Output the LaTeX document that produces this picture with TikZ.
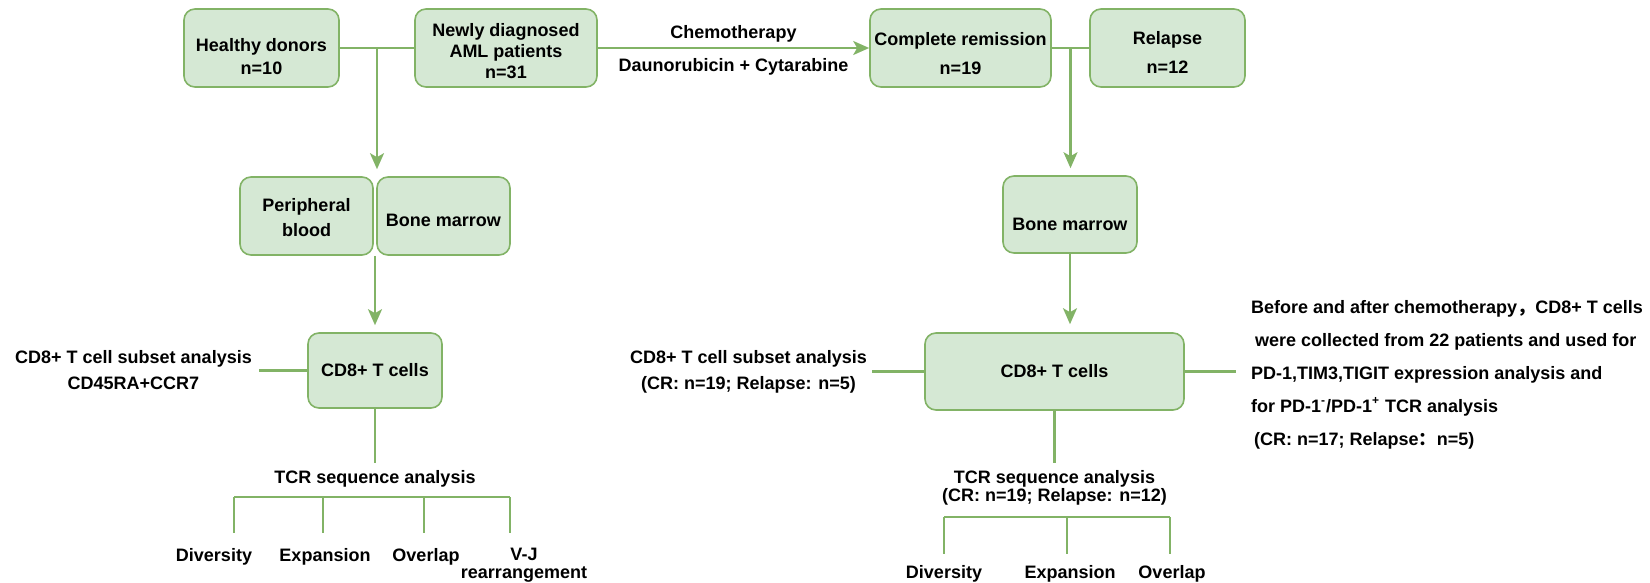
\documentclass[tikz,border=0pt]{standalone}
\usepackage{fontspec}
\setmainfont{Liberation Sans}
\newfontfamily\cjk{Noto Sans CJK SC}
\usetikzlibrary{positioning,arrows.meta,calc}
\definecolor{boxfill}{HTML}{D5E8D4}
\definecolor{boxline}{HTML}{82B366}
\definecolor{linkgreen}{HTML}{82B366}
\newcommand{\lowr}[1]{\rule{0pt}{#1}}

\begin{document}
\begin{tikzpicture}[
    x=0.5pt, y=-0.5pt,
    font=\bfseries\fontsize{9}{11}\selectfont,
    box/.style={draw=boxline, fill=boxfill, line width=0.8pt, rounded corners=5.5pt, align=center, inner sep=0pt},
    lbl/.style={align=center, inner sep=0pt},
    link/.style={draw=linkgreen, line width=1.1pt},
    arr/.style={link, -{Stealth[length=8pt, width=7pt, inset=2pt]}}
]
\useasboundingbox (0,0) rectangle (1650,583);

% top row
\node[box, minimum width=77.5pt, minimum height=39pt] (donors) at (261.5,48) {\lowr{15pt}Healthy donors\\[0.5pt]n=10};
\node[box, minimum width=91pt, minimum height=39pt] (aml) at (506,48) {\lowr{9.5pt}Newly diagnosed\\[-0.5pt]AML patients\\[-0.5pt]n=31};
\node[box, minimum width=90.5pt, minimum height=39pt] (cr) at (960.5,48) {\lowr{12pt}Complete remission\\[3.5pt]n=19};
\node[box, minimum width=77.5pt, minimum height=39pt] (relapse) at (1167.5,48) {\lowr{11pt}Relapse\\[3.5pt]n=12};

% samples
\node[box, minimum width=66.5pt, minimum height=39pt] (pb) at (306.5,216) {\lowr{8pt}Peripheral\\[1.5pt]blood};
\node[box, minimum width=66.5pt, minimum height=39pt] (bml) at (443.5,216) {\lowr{10.5pt}Bone marrow};
\node[box, minimum width=67pt, minimum height=38.5pt] (bmr) at (1070,214.5) {\lowr{16.5pt}Bone marrow};

% T cells
\node[box, minimum width=67pt, minimum height=37.5pt] (cd8l) at (375,370.5) {CD8+ T cells};
\node[box, minimum width=129.5pt, minimum height=38.5pt] (cd8r) at (1054.5,371.5) {CD8+ T cells};

\node[lbl, left=27.5pt of cd8l] (subl) {CD8+ T cell subset analysis\\[2pt]CD45RA+CCR7};
\node[lbl, left=28.5pt of cd8r] (subr) {CD8+ T cell subset analysis\\[2pt](CR: n=19; Relapse: n=5)};
\node[lbl, align=left, right=33pt of cd8r, yshift=-1.5pt] (pdtext) {Before and after chemotherapy{\cjk ，}CD8+ T cells\\[5.5pt]
  \hspace{2pt}were collected from 22 patients and used for\\[5.5pt]
  PD-1,TIM3,TIGIT expression analysis and\\[5.5pt]
  for PD-1\textsuperscript{-}/PD-1\textsuperscript{+} TCR analysis\\[5.5pt]
  \hspace{1.5pt}(CR: n=17; Relapse{\cjk ：}n=5)};

% TCR analysis
\node[lbl, below=30.5pt of cd8l] (tcrl) {TCR sequence analysis};
\node[lbl, below=29.5pt of cd8r] (tcrr) {TCR sequence analysis\\[-2pt](CR: n=19; Relapse: n=12)};

\node[lbl, anchor=north] (divl) at (214,548) {Diversity};
\node[lbl, anchor=north] (expl) at (325,548) {Expansion};
\node[lbl, anchor=north] (ovll) at (426,548) {Overlap};
\node[lbl, anchor=north] (vjl) at (524,548) {V-J\\[-2pt]rearrangement};
\node[lbl, anchor=north] (divr) at (944,565.5) {Diversity};
\node[lbl, anchor=north] (expr) at (1070,565.5) {Expansion};
\node[lbl, anchor=north] (ovlr) at (1172,565.5) {Overlap};

\coordinate (bdivl) at (234,497);
\coordinate (bexpl) at (323,497);
\coordinate (bovll) at (424,497);
\coordinate (bvjl) at (510,497);
\coordinate (bdivr) at (944,517);
\coordinate (bexpr) at (1067,517);
\coordinate (bovlr) at (1170,517);

% connectors
\draw[link] (donors.east) -- (aml.west);
\coordinate (jl) at ($(donors.east)!0.5!(aml.west)$);
\draw[arr, shorten >=3.5pt] (jl) -- (jl |- pb.north);
\draw[arr] (aml.east) -- node[lbl, above=2.5pt]{Chemotherapy} node[lbl, below=4.5pt]{Daunorubicin + Cytarabine} (cr.west);
\draw[link] (cr.east) -- (relapse.west);
\coordinate (jr) at ($(cr.east)!0.5!(relapse.west)$);
\draw[arr, shorten >=3.5pt] (jr) -- (jr |- bmr.north);

\coordinate (seam) at ($(pb.south east)!0.5!(bml.south west)$);
\draw[arr, shorten >=3.5pt] (seam) -- (cd8l.north);
\draw[arr, shorten >=4pt] (bmr.south) -- (bmr.south |- cd8r.north);

\draw[link, shorten <=3.5pt] (subl.east) -- (cd8l.west);
\draw[link, shorten <=2.5pt] (subr.east) -- (cd8r.west);
\draw[link, shorten >=7.5pt] (cd8r.east) -- (cd8r.east -| pdtext.west);

\draw[link, shorten >=3.5pt] (cd8l.south) -- (tcrl.north);
\draw[link, shorten >=3.5pt] (cd8r.south) -- (tcrr.north);

\draw[link] (bdivl) -- (bvjl);
\foreach \b/\t in {bdivl/divl, bexpl/expl, bovll/ovll, bvjl/vjl}
  \draw[link, shorten >=7.5pt] (\b) -- (\b |- \t.north);
\draw[link] (bdivr) -- (bovlr);
\foreach \b/\t in {bdivr/divr, bexpr/expr, bovlr/ovlr}
  \draw[link, shorten >=6pt] (\b) -- (\b |- \t.north);
\end{tikzpicture}
\end{document}
